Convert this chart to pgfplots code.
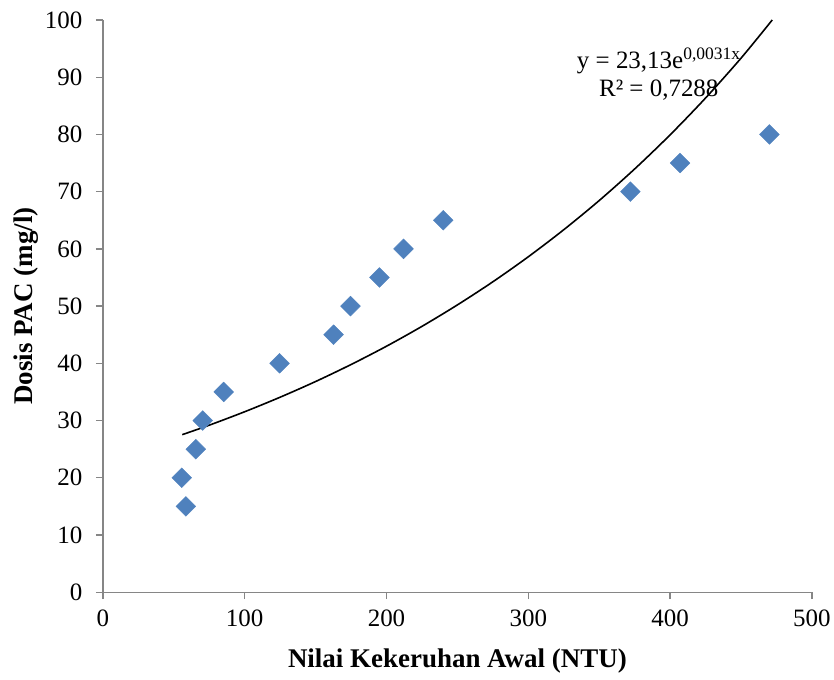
\documentclass[border=0pt]{standalone}
\usepackage{pgfplots}
\pgfplotsset{compat=1.18}
\usepackage{fontspec}
\setmainfont{Liberation Serif}
\definecolor{ptblue}{HTML}{4F81BD}
\definecolor{axgray}{HTML}{868686}
\begin{document}
\begin{tikzpicture}
\begin{axis}[
  width=710pt, height=573pt, scale only axis,
  xmin=0, xmax=500, ymin=0, ymax=100,
  xtick={0,100,...,500}, ytick={0,10,...,100},
  axis x line*=bottom, axis y line*=left,
  axis line style={axgray, line width=1.3pt, -},
  tick style={axgray, line width=1.3pt},
  major tick length=7pt,
  tick align=outside,
  /pgf/number format/assume math mode=true,
  ticklabel style={font=\fontsize{25}{30}\selectfont},
  yticklabel style={xshift=-10pt},
  xticklabel style={yshift=-7pt},
  xlabel={Nilai Kekeruhan Awal (NTU)},
  ylabel={Dosis PAC (mg/l)},
  label style={font=\fontsize{27}{32}\selectfont\bfseries},
  xlabel style={at={(axis description cs:0.5,-0.1204)}, anchor=center},
  ylabel style={at={(axis description cs:-0.1085,0.5)}, anchor=center},
  clip=true,
]
\addplot[only marks, mark=square*, mark size=7pt, mark options={rotate=45, fill=ptblue, draw=ptblue}] coordinates {
(55.6,20) (58.5,15) (65.5,25) (70.4,30) (85.2,35) (124.6,40) (162.7,45)
(174.6,50) (195,55) (212,60) (240,65) (372,70) (407,75) (470,80)
};
\addplot[black, line width=1.6pt, smooth] coordinates {
(56,27.54) (75,29.19) (100,31.54) (125,34.08) (150,36.82) (175,39.79)
(200,42.99) (225,46.46) (250,50.21) (275,54.25) (300,58.62) (325,63.35)
(350,68.45) (375,73.97) (400,79.93) (425,86.37) (450,93.33) (472,100.0)
};
\node[font=\fontsize{25}{28}\selectfont, align=center] at (axis cs:392,90.6)
  {y = 23,13e\textsuperscript{0,0031x}\\R² = 0,7288};
\end{axis}
\path (current axis.south west) ++(-103pt,-87pt) rectangle ([shift={(21pt,20pt)}]current axis.north east);
\end{tikzpicture}
\end{document}
